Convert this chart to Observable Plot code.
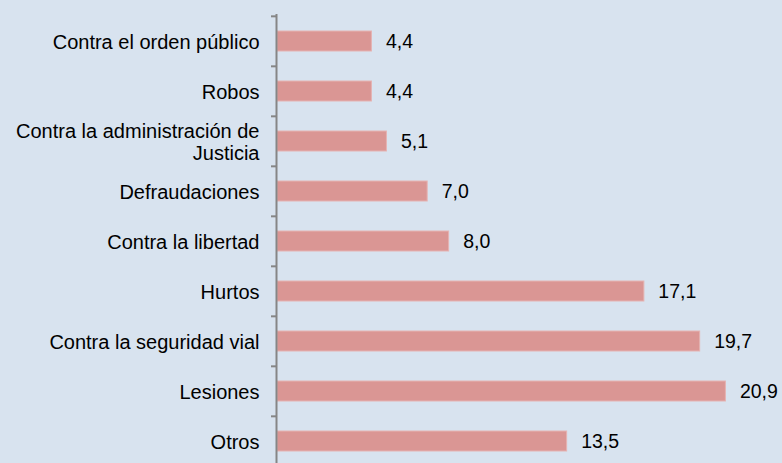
<!DOCTYPE html>
<html>
<head>
<meta charset="utf-8">
<script src="https://cdn.jsdelivr.net/npm/d3@7"></script>
<script src="https://cdn.jsdelivr.net/npm/@observablehq/plot@0.6"></script>
<style>
  html, body { margin: 0; padding: 0; background: #d8e3ef; }
  #chart { width: 782px; height: 463px; overflow: hidden; }
</style>
</head>
<body>
<div id="chart"></div>
<script>
const categories = [
  "Contra el orden público",
  "Robos",
  "Contra la administración de\nJusticia",
  "Defraudaciones",
  "Contra la libertad",
  "Hurtos",
  "Contra la seguridad vial",
  "Lesiones",
  "Otros"
];
const values = [4.4, 4.4, 5.1, 7.0, 8.0, 17.1, 19.7, 20.9, 13.5];

const data = categories.map((c, i) => ({category: c, value: values[i]}));
const fmt = v => v.toFixed(1).replace(".", ",");

const W = 782, H = 463;
const bandStep = (467 - 14) / categories.length;

const chart = Plot.plot({
  width: W,
  height: H,
  marginLeft: 277,
  marginRight: 33,
  marginTop: 14,
  marginBottom: 0,
  style: {background: "#d8e3ef", fontFamily: "Arial, 'Liberation Sans', sans-serif", fontSize: "20px", color: "#000"},
  x: {domain: [0, 22], axis: null},
  y: {domain: categories, range: [14, 467], paddingInner: 0.6, paddingOuter: 0.3, axis: null, label: null},
  marks: [
    Plot.barX(data, {y: "category", x: "value", fill: "#da9694", stroke: "#e6b3b2", strokeWidth: 1}),
    Plot.text(data, {y: "category", x: "value", text: d => fmt(d.value), textAnchor: "start", dx: 14, fontSize: 19.5, fill: "#000"}),
    Plot.ruleX([0], {stroke: "#868686", strokeWidth: 2, dx: -1}),
    Plot.axisY({tickSize: 5, text: null, label: null, dy: -bandStep / 2, stroke: "#868686", strokeWidth: 2, strokeOpacity: 1, dx: -1}),
    Plot.axisY({tickSize: 0, tickPadding: 18, label: null, fontSize: 20, fill: "#000", lineHeight: 1.1})
  ]
});
document.getElementById("chart").appendChild(chart);
</script>
</body>
</html>
